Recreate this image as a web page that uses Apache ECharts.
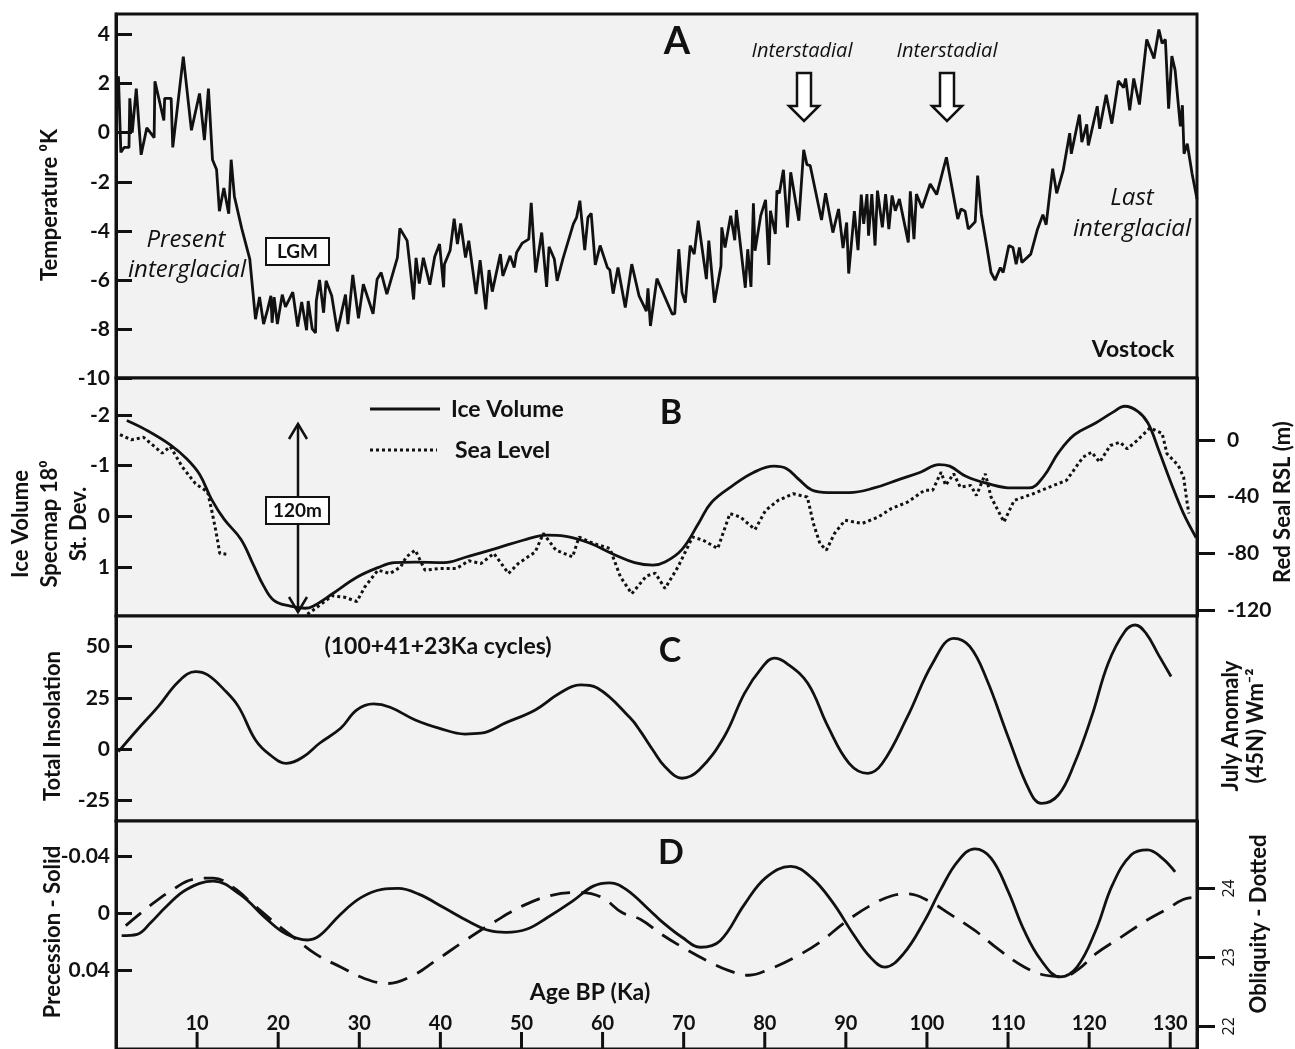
<!DOCTYPE html>
<html><head><meta charset="utf-8">
<script src="https://cdn.jsdelivr.net/npm/echarts@6/dist/echarts.min.js"></script>
<style>html,body{margin:0;padding:0;background:#fff}#c{width:1295px;height:1049px}</style>
</head><body><div id="c"></div>
<script>
// ---------- DATA ----------
const ageTicks = [10,20,30,40,50,60,70,80,90,100,110,120,130];
const tempTicks = [-10,-8,-6,-4,-2,0,2,4];
const iceTicks = [-2,-1,0,1];
const rslTicks = [0,-40,-80,-120];
const insolTicks = [-25,0,25,50];
const precTicks = [-0.04,0,0.04];
const obliqTicks = [22,23,24];

// Panel A: Vostok temperature anomaly [age ka, K]
const temperature = [[0.3,2.3],[0.6,-0.8],[1.0,-0.6],[1.6,-0.6],[1.7,1.4],[2.0,0.0],[2.5,1.8],[3.1,-0.9],[3.8,0.2],[4.7,-0.2],[4.8,2.1],[5.9,0.5],[6.0,1.4],[6.8,1.4],[7.0,-0.6],[8.3,3.1],[9.3,0.1],[10.3,1.6],[10.9,-0.3],[11.4,1.8],[11.9,-1.1],[12.4,-1.5],[12.75,-3.2],[13.3,-2.25],[13.9,-3.3],[14.2,-1.1],[14.6,-2.6],[15.5,-3.9],[16.5,-5.15],[17.2,-7.6],[17.7,-6.7],[18.2,-7.8],[18.7,-7.2],[19.1,-6.65],[19.25,-7.75],[19.5,-6.7],[19.9,-7.8],[20.5,-6.6],[20.9,-7.1],[21.8,-6.5],[22.4,-7.9],[22.9,-6.9],[23.5,-8.05],[23.7,-6.86],[24.2,-8.0],[24.6,-8.16],[24.7,-6.86],[25.1,-6.0],[25.6,-7.34],[25.9,-6.04],[26.6,-6.65],[27.3,-8.1],[28.3,-6.6],[28.6,-7.8],[29.2,-5.8],[29.9,-7.57],[30.5,-6.18],[31.7,-7.38],[32.2,-5.97],[32.7,-5.7],[33.4,-6.58],[34.7,-5.09],[35.0,-3.9],[35.9,-4.4],[36.7,-6.8],[37.0,-5.1],[37.4,-6.15],[37.9,-5.1],[38.7,-6.2],[39.3,-5.06],[39.9,-4.54],[40.4,-6.3],[40.5,-5.36],[41.2,-4.8],[41.7,-3.5],[42.1,-4.54],[42.5,-3.7],[43.1,-5.09],[43.5,-4.4],[44.4,-6.58],[44.9,-5.2],[45.6,-7.2],[46.0,-5.6],[46.4,-6.48],[47.4,-4.95],[47.7,-5.84],[48.6,-5.02],[49.1,-5.5],[49.4,-4.88],[50.1,-4.5],[50.9,-4.34],[51.2,-2.86],[51.75,-5.7],[52.5,-4.07],[53.1,-6.29],[53.4,-4.65],[54.05,-5.15],[54.4,-6.04],[55.1,-5.15],[56.4,-3.72],[56.8,-3.45],[57.2,-2.77],[57.8,-4.79],[58.2,-3.45],[58.6,-3.29],[59.1,-5.39],[59.7,-4.6],[60.6,-5.5],[60.9,-5.6],[61.3,-6.56],[61.9,-5.5],[62.8,-7.13],[63.6,-5.36],[64.5,-6.65],[65.4,-7.27],[65.6,-6.34],[65.9,-7.88],[66.7,-5.95],[68.6,-7.4],[68.9,-7.38],[69.4,-4.75],[69.8,-6.52],[70.2,-6.93],[70.8,-4.6],[71.3,-4.95],[71.8,-3.59],[72.8,-5.97],[73.1,-4.4],[73.8,-6.93],[74.6,-5.43],[74.7,-3.86],[75.1,-4.68],[75.8,-3.38],[76.3,-4.38],[76.5,-3.15],[77.6,-6.32],[77.9,-4.75],[78.3,-6.29],[78.6,-2.88],[78.8,-4.81],[79.5,-3.38],[80.1,-2.74],[80.5,-5.39],[80.7,-3.18],[81.3,-4.13],[81.5,-2.36],[81.8,-2.47],[82.3,-1.51],[82.8,-3.86],[83.2,-1.61],[84.2,-3.59],[84.8,-0.7],[85.2,-1.3],[85.6,-1.34],[87.0,-3.56],[87.5,-2.47],[88.4,-4.07],[89.1,-3.11],[89.65,-4.7],[90.1,-3.66],[90.35,-5.74],[91.05,-3.2],[91.5,-4.79],[91.9,-2.52],[92.2,-3.72],[92.6,-2.5],[92.8,-4.2],[93.2,-2.5],[93.6,-4.6],[93.9,-2.36],[94.5,-3.86],[94.9,-2.5],[95.3,-3.93],[95.7,-2.56],[96.1,-3.18],[96.6,-2.7],[97.7,-4.47],[97.95,-2.39],[98.4,-4.34],[98.7,-2.5],[99.4,-3.07],[100.4,-2.09],[101.2,-2.52],[102.4,-1.0],[103.8,-3.52],[104.2,-3.11],[104.7,-3.2],[105.1,-3.93],[105.95,-3.63],[106.25,-1.75],[106.7,-3.31],[107.4,-4.68],[107.9,-5.7],[108.4,-6.01],[109.05,-5.5],[109.4,-5.7],[110.1,-4.6],[110.6,-4.68],[111.0,-5.36],[111.4,-4.68],[111.7,-5.29],[112.8,-4.95],[113.6,-3.97],[114.3,-3.34],[114.7,-3.75],[115.5,-1.47],[116.0,-2.47],[116.8,-1.54],[117.6,-0.02],[117.8,-0.86],[118.8,0.74],[119.1,-0.38],[119.7,0.34],[119.9,-0.52],[121.0,1.08],[121.3,0.16],[122.1,1.55],[122.8,0.37],[123.6,2.11],[124.25,1.84],[124.5,2.21],[125.0,0.91],[125.5,2.21],[126.2,1.15],[127.1,3.8],[128.0,3.03],[128.6,4.21],[129.0,3.64],[129.4,3.8],[129.8,0.98],[130.2,3.12],[130.6,2.55],[131.25,0.26],[131.5,1.12],[131.7,-0.86],[132.1,-0.45],[132.7,-1.68],[133.3,-2.7]];

// Panel B: ice volume (SPECMAP std. dev.) and Red Sea relative sea level (m)
const iceVolume = [[1.33,-1.89],[3.64,-1.71],[6.7,-1.41],[8.75,-1.13],[10.3,-0.83],[11.8,-0.33],[13.35,0.06],[15.4,0.45],[16.9,0.94],[18.2,1.37],[19.5,1.66],[21.5,1.77],[23.3,1.81],[24.3,1.77],[26.65,1.53],[29.7,1.2],[32.3,1.01],[34.3,0.91],[36.9,0.9],[40.5,0.91],[43.0,0.81],[47.1,0.62],[50.2,0.47],[53.2,0.37],[55.3,0.39],[58.3,0.52],[61.4,0.75],[63.95,0.91],[66.2,0.96],[67.7,0.9],[69.8,0.65],[71.9,0.12],[73.4,-0.27],[76.0,-0.6],[78.55,-0.86],[81.15,-0.99],[82.7,-0.94],[84.2,-0.73],[85.8,-0.52],[87.8,-0.47],[90.4,-0.47],[93.5,-0.56],[96.6,-0.73],[99.2,-0.87],[101.5,-1.02],[102.8,-0.99],[104.8,-0.79],[107.4,-0.65],[110.5,-0.56],[112.6,-0.56],[114.4,-0.79],[116.2,-1.25],[118.2,-1.61],[120.8,-1.84],[122.9,-2.05],[124.4,-2.17],[126.0,-2.07],[127.25,-1.84],[128.55,-1.32],[130.1,-0.66],[131.6,-0.07],[133.2,0.42]];
const seaLevel = [[0.5,3.7],[1.9,0],[3.4,1.8],[5.7,-9.4],[6.7,-4.7],[8.2,-19.3],[9.8,-30.9],[11.3,-36.8],[11.8,-49.7],[12.3,-63.8],[12.8,-80.1],[13.6,-80.6],
  [18,'-'],
  [23.6,-123],[24.6,-118.8],[26.65,-110],[28.2,-111],[29.7,-114],[30.7,-103.6],[32.3,-91.9],[33.8,-94.2],[35.1,-89.6],[35.8,-82.5],[36.9,-77.8],[38.1,-91.9],[39.9,-90.7],[42.0,-90.7],[43.5,-85.3],[45.0,-87.2],[46.6,-80.1],[48.4,-94.2],[49.6,-87.2],[51.7,-79],[52.7,-66],[54.25,-77.8],[56.3,-82.5],[57.1,-68.5],[58.9,-73.1],[60.9,-76.6],[62.2,-96.6],[63.6,-108.5],[65.4,-96],[66.5,-94],[67.7,-104.8],[69.3,-89.6],[71.1,-68.5],[72.4,-70.8],[74.2,-76.6],[75.7,-52],[77.0,-54.4],[78.8,-63.3],[80.1,-49.7],[81.65,-42.7],[83.5,-38],[85.25,-40.3],[86.0,-59],[86.8,-73.1],[87.6,-77.8],[88.6,-66],[89.9,-56.7],[92.0,-59],[94.0,-54.4],[95.6,-48.5],[97.6,-43.9],[99.7,-35.6],[100.7,-35.6],[101.75,-22.8],[102.3,-32.1],[103.3,-23.9],[104.1,-33.3],[105.4,-32.1],[106.1,-39.2],[107.2,-23.9],[107.9,-40.3],[109.5,-57.9],[110.75,-42.7],[113.1,-38],[115.1,-33.3],[117.2,-28.6],[119.25,-12.2],[120.3,-8.7],[121.3,-15.7],[122.6,-4],[123.8,-1.7],[124.7,-6.3],[125.9,-0.5],[127.5,8.4],[129.0,4.6],[129.6,-9.8],[131.0,-18.1],[131.65,-26.3],[132.1,-45],[132.3,-52]];

// Panel C: July insolation anomaly 45N (W/m2)
const insolation = [[0.3,-1.3],[2.6,9.3],[5.2,20.7],[7.7,32.9],[9.8,37.8],[11.3,36.2],[13.35,28.9],[15.1,20.7],[17.2,4.4],[19.0,-2.9],[21.0,-7],[23.1,-3.8],[25.1,2.8],[27.7,10.1],[29.7,19.1],[31.75,22],[33.8,20.4],[36.9,14.2],[39.9,10.1],[43.0,7.3],[45.0,7.7],[48.1,12.9],[51.7,19.1],[54.8,27.5],[57.3,31.3],[59.4,29.7],[63.45,15],[64.7,8.5],[66.2,-0.5],[67.7,-8.7],[69.8,-14.3],[71.9,-10.3],[75.0,6],[77.5,27.2],[79.6,39.5],[81.15,44.4],[82.7,41.9],[85.3,32.1],[87.8,10.9],[90.4,-7],[92.7,-11.9],[94.5,-7],[97.6,15.8],[100.7,41.9],[103.3,54.1],[105.3,50],[107.4,33.7],[110.0,6],[112.6,-20],[114.1,-26.6],[116.2,-22.5],[118.2,-7],[120.3,15.8],[122.35,41.9],[124.4,57.4],[125.7,60.6],[127.0,56.6],[128.55,46],[130.1,35.4]];

// Panel D: precession (solid) and obliquity (dashed, degrees)
const precession = [[0.7,0.016],[2.6,0.015],[4.3,0.0067],[6.3,-0.005],[8.7,-0.0165],[12.0,-0.0223],[15.3,-0.013],[18.6,0.0044],[21.0,0.0148],[23.6,0.019],[25.1,0.016],[27.7,0.0009],[30.2,-0.0107],[32.8,-0.0165],[34.8,-0.0172],[37.4,-0.013],[40.4,-0.0038],[43.5,0.006],[46.1,0.0125],[48.1,0.0136],[50.7,0.0113],[53.2,0.0032],[56.3,-0.0083],[58.85,-0.0188],[60.9,-0.0211],[62.9,-0.0165],[65.9,-0.0014],[67.2,0.0056],[69.8,0.0171],[72.1,0.0241],[74.5,0.0195],[77.5,-0.006],[80.1,-0.0246],[83.2,-0.0327],[85.8,-0.0246],[88.4,-0.0072],[90.9,0.0148],[93.0,0.031],[94.8,0.038],[97.1,0.0287],[99.7,0.0056],[101.7,-0.0165],[103.8,-0.0362],[105.9,-0.045],[107.9,-0.0385],[110.0,-0.0153],[112.0,0.0125],[114.1,0.0334],[116.4,0.0449],[118.5,0.038],[120.8,0.0125],[122.9,-0.02],[125.2,-0.0408],[127.2,-0.0443],[129.0,-0.0385],[130.6,-0.0288]];
const obliquity = [[1.2,23.46],[4.2,23.75],[7.1,23.99],[9.5,24.13],[12.0,24.15],[14.5,24.01],[16.9,23.77],[19.8,23.48],[21.9,23.29],[24.6,23.05],[27.7,22.86],[30.7,22.69],[33.5,22.62],[36.35,22.72],[39.4,22.95],[43.0,23.24],[46.6,23.51],[50.2,23.75],[53.7,23.9],[57.3,23.94],[59.9,23.87],[62.4,23.65],[64.7,23.55],[67.2,23.34],[69.8,23.15],[72.9,22.95],[75.5,22.81],[78.05,22.74],[80.6,22.83],[83.7,23.0],[86.8,23.22],[89.9,23.51],[93.0,23.75],[95.6,23.89],[97.6,23.92],[100.2,23.82],[102.8,23.63],[105.9,23.39],[109.0,23.1],[112.0,22.86],[114.6,22.74],[116.7,22.72],[118.7,22.83],[120.8,23.05],[123.9,23.29],[127.0,23.53],[129.6,23.7],[131.6,23.84],[133.2,23.87]];

// ---------- CHART ----------
const INK = '#111';
const BF = 'Lato';
const IF = '"Open Sans"';
const bold = (s) => 'bold ' + s + 'px ' + BF;
const ital = (s) => 'italic ' + s + 'px ' + IF;

function gridBox(top, height) {
  return {left:116, right:98, top:top, height:height, show:true, backgroundColor:'#f2f2f2', borderColor:INK, borderWidth:3, containLabel:false};
}
function xAx(i, showIt) {
  const a = {gridIndex:i, type:'value', min:0, max:133.3, show:showIt, splitLine:{show:false}};
  if (showIt) {
    Object.assign(a, {
      position:'bottom',
      axisLine:{show:false, onZero:false},
      axisTick:{show:false},
      axisLabel:{show:true, inside:true, margin:15, customValues:ageTicks, color:INK, fontFamily:BF, fontWeight:'bold', fontSize:20}
    });
  }
  return a;
}
function yAx(i, pos, min, max, ticks, opts) {
  opts = opts || {};
  return Object.assign({
    gridIndex:i, type:'value', position:pos, min:min, max:max, inverse:!!opts.inverse,
    splitLine:{show:false},
    axisLine:{show:true, onZero:false, lineStyle:{color:INK, width:3}},
    axisTick:{show:true, inside:pos==='left', length:pos==='left'?16:18, customValues:ticks, lineStyle:{color:INK, width:3}},
    axisLabel:Object.assign({show:true, customValues:ticks, margin:pos==='left'?6:30, color:INK, fontFamily:BF, fontWeight:'bold', fontSize:21}, opts.label||{})
  }, opts.extra||{});
}

const lineS = (xi, yi, data, style, smooth) => ({
  type:'line', xAxisIndex:xi, yAxisIndex:yi, data:data, showSymbol:false, symbol:'none',
  smooth:smooth||false, connectNulls:false, clip:true,
  lineStyle:Object.assign({color:INK, width:2.8}, style||{}), itemStyle:{color:INK}
});

function rotText(x, y, text, font, lh) {
  return {type:'text', x:x, y:y, rotation:Math.PI/2, z:100,
    style:{text:text, font:font, fill:INK, align:'center', verticalAlign:'middle', lineHeight:lh||24}};
}
function txt(x, y, text, font, align) {
  return {type:'text', x:x, y:y, z:100, style:{text:text, font:font, fill:INK, align:align||'center', verticalAlign:'middle'}};
}
function hollowArrow(cx) {
  return {type:'polygon', z:100, shape:{points:[[cx-7,73],[cx+7,73],[cx+7,106],[cx+15,106],[cx,121],[cx-15,106],[cx-7,106]]},
    style:{fill:'#fff', stroke:INK, lineWidth:2.5}};
}

const chart = echarts.init(document.getElementById('c'), null, {renderer:'canvas'});
chart.setOption({
  animation:false,
  backgroundColor:'#fff',
  grid:[gridBox(14,364), gridBox(378,238), gridBox(616,205), gridBox(821,230)],
  xAxis:[xAx(0,false), xAx(1,false), xAx(2,false), xAx(3,true)],
  yAxis:[
    yAx(0,'left',-10,4.84,tempTicks),
    yAx(1,'left',-2.727,1.963,iceTicks,{inverse:true}),
    yAx(1,'right',-124.2,43.6,rslTicks),
    yAx(2,'left',-35.2,65,insolTicks),
    yAx(3,'left',-0.0645,0.0955,precTicks,{inverse:true, label:{formatter:(v)=> (Math.abs(v)<1e-9?'0':(+v).toFixed(2))}}),
    yAx(3,'right',21.67,24.978,obliqTicks,{label:{rotate:90, margin:24, fontWeight:'normal', fontSize:16, fontFamily:'"Open Sans"'}})
  ],
  series:[
    lineS(0,0,temperature,{width:2.8}),
    lineS(1,1,iceVolume,{width:2.8},0.4),
    lineS(1,2,seaLevel,{width:3, type:[3,3]}),
    lineS(2,3,insolation,{width:2.8},0.4),
    lineS(3,4,precession,{width:2.8},0.4),
    lineS(3,5,obliquity,{width:2.8, type:[20,11]},0.4)
  ]
});

// Age-axis tick marks, positioned through the library's own x scale of panel D
const ageTickMarks = ageTicks.map(function (v) {
  const px = chart.convertToPixel({xAxisIndex:3}, v);
  return {type:'line', z:100, shape:{x1:px, y1:1032, x2:px, y2:1049}, style:{stroke:INK, lineWidth:3}};
});

chart.setOption({
  graphic:[
    // panel letters
    txt(677,42,'A',bold(38)), txt(671,413,'B',bold(34)), txt(670,651,'C',bold(34)), txt(671,853,'D',bold(34)),
    // panel A annotations
    txt(802,51,'Interstadial',ital(20)), txt(947,51,'Interstadial',ital(20)),
    hollowArrow(804), hollowArrow(947),
    txt(186,240,'Present',ital(24)), txt(187,270,'interglacial',ital(24)),
    {type:'rect', z:99, shape:{x:266,y:238,width:63,height:27}, style:{fill:'#fff', stroke:INK, lineWidth:2}},
    txt(297.5,252,'LGM',bold(19)),
    txt(1132,198,'Last',ital(24)), txt(1132,229,'interglacial',ital(24)),
    txt(1133,350,'Vostock',bold(23)),
    // panel B legend and 120 m arrow
    {type:'line', z:100, shape:{x1:370,y1:409,x2:440,y2:409}, style:{stroke:INK, lineWidth:3}},
    txt(451,410,'Ice Volume',bold(23),'left'),
    {type:'line', z:100, shape:{x1:370,y1:450,x2:437,y2:450}, style:{stroke:INK, lineWidth:3, lineDash:[3,3]}},
    txt(455,451,'Sea Level',bold(23),'left'),
    {type:'line', z:98, shape:{x1:298,y1:424,x2:298,y2:612}, style:{stroke:INK, lineWidth:2.5}},
    {type:'polyline', z:98, shape:{points:[[289,439],[298,424],[307,439]]}, style:{stroke:INK, lineWidth:2.5, fill:null}},
    {type:'polyline', z:98, shape:{points:[[289,597],[298,612],[307,597]]}, style:{stroke:INK, lineWidth:2.5, fill:null}},
    {type:'rect', z:99, shape:{x:266,y:497,width:63,height:27}, style:{fill:'#fff', stroke:INK, lineWidth:2}},
    txt(297.5,511,'120m',bold(19)),
    // panel C / D notes
    txt(438,647,'(100+41+23Ka cycles)',bold(23)),
    txt(590,993,'Age BP (Ka)',bold(23)),
    // axis names
    rotText(50,205,'Temperature \u2070K',bold(22)),
    rotText(50,524,'Ice Volume\nSpecmap 18\u2070\nSt. Dev.',bold(22),29),
    rotText(53,726,'Total Insolation',bold(22)),
    rotText(53,932,'Precession - Solid',bold(22)),
    rotText(1283,502,'Red Seal RSL (m)',bold(22)),
    rotText(1243,726,'July Anomaly\n(45N) Wm\u207B\u00B2',bold(22),25),
    rotText(1259,924,'Obliquity - Dotted',bold(22))
  ].concat(ageTickMarks)
});
</script>
</body></html>
